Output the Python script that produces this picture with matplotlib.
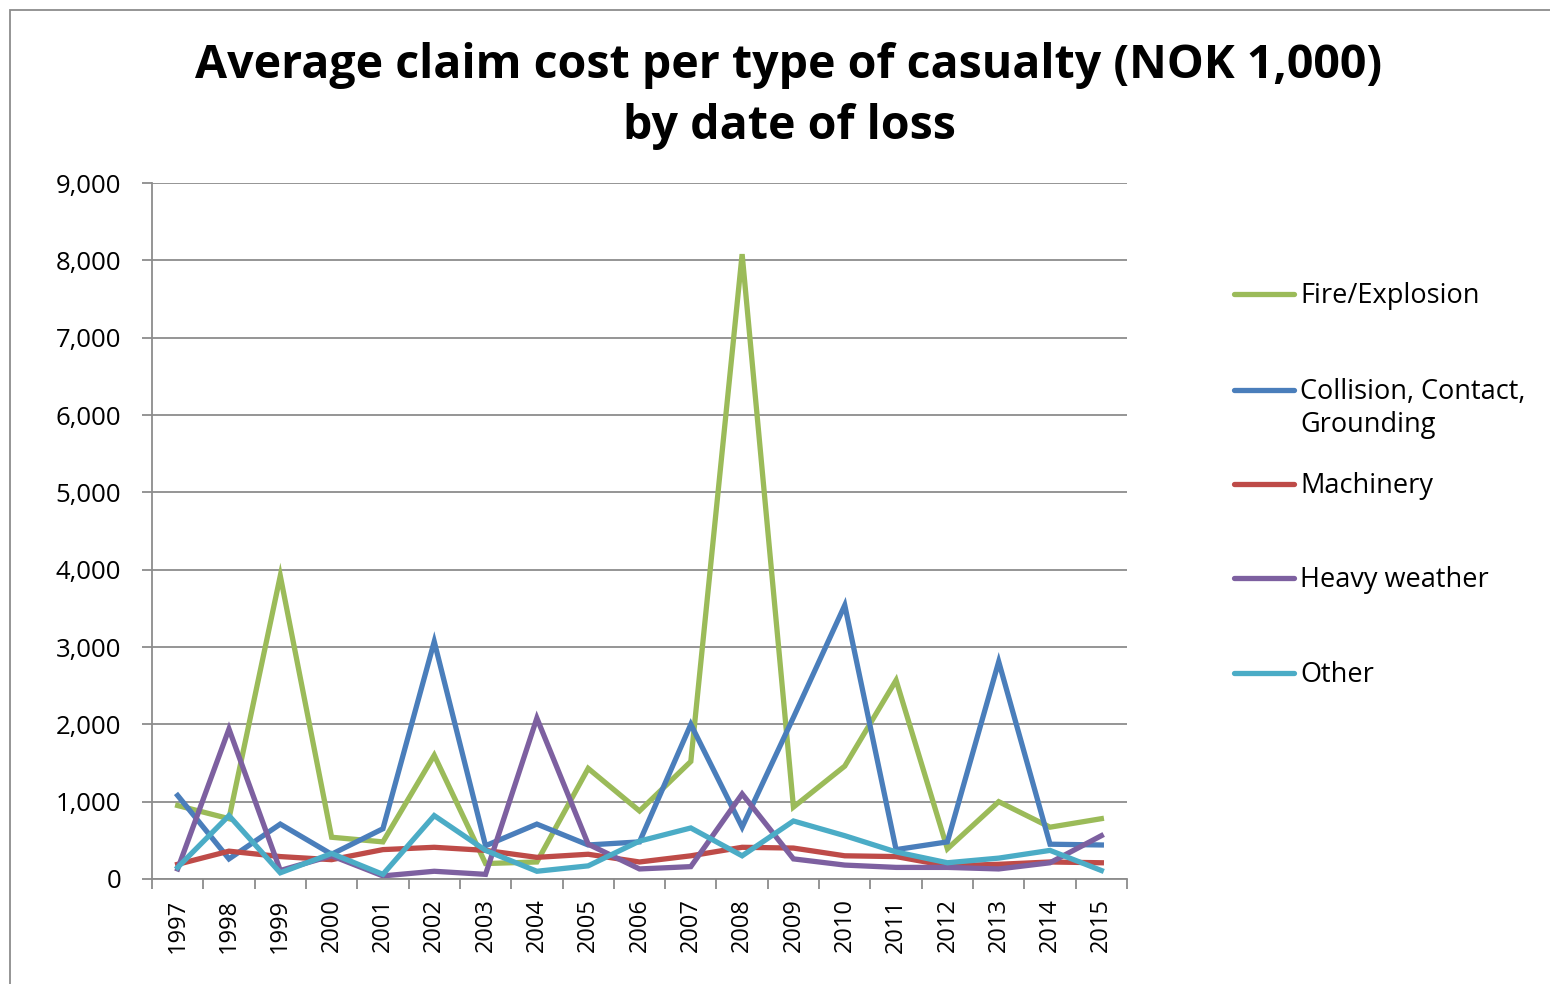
import matplotlib
matplotlib.use("Agg")
import matplotlib.pyplot as plt
import numpy as np
from matplotlib.lines import Line2D
from matplotlib.patches import Rectangle
from matplotlib.ticker import FuncFormatter, MultipleLocator, FixedLocator

# average claim cost, NOK 1,000, by year of loss
years = [1997, 1998, 1999, 2000, 2001, 2002, 2003, 2004, 2005, 2006,
         2007, 2008, 2009, 2010, 2011, 2012, 2013, 2014, 2015]
fire = [950, 780, 3920, 540, 480, 1600, 200, 220, 1430, 880,
        1520, 8080, 930, 1460, 2570, 390, 1000, 670, 780]
collision = [1080, 260, 710, 320, 650, 3070, 430, 710, 440, 480,
             2000, 670, 2090, 3540, 380, 480, 2810, 450, 440]
machinery = [190, 360, 290, 250, 380, 410, 370, 280, 320, 220,
             300, 410, 400, 300, 290, 170, 190, 220, 210]
heavy = [130, 1940, 110, 300, 40, 100, 60, 2080, 450, 130,
         160, 1100, 260, 180, 150, 150, 130, 210, 560]
other = [150, 820, 80, 330, 60, 820, 370, 100, 170, 490,
         660, 300, 750, 560, 350, 210, 270, 370, 110]

names = ["Fire/Explosion", "Collision, Contact,\nGrounding", "Machinery",
         "Heavy weather", "Other"]
colors = ["#9BBB59", "#4A7EBB", "#BE4B48", "#7D60A0", "#4BACC6"]
series = [fire, collision, machinery, heavy, other]

plt.rcParams["font.family"] = ["Open Sans", "DejaVu Sans"]

W, H = 1550, 984
fig = plt.figure(figsize=(W / 100, H / 100), dpi=100)


def fx(px):
    return px / W


def fy(py):
    return 1 - py / H


# outer chart border (cut off at right/bottom)
fig.add_artist(Rectangle((fx(10), -0.2), 1.2, fy(10) + 0.2, transform=fig.transFigure,
                         fill=False, edgecolor="#8c8c8c", lw=1.3))

ax = fig.add_axes([fx(152), fy(879), fx(1127) - fx(152), fy(183) - fy(879)])

x = np.arange(len(years))
for vals, col in zip(series, colors):
    ax.plot(x, vals, color=col, lw=3.8, solid_joinstyle="miter")

ax.set_xlim(-0.5, len(years) - 0.5)
ax.set_ylim(0, 9000)
ax.yaxis.set_major_locator(MultipleLocator(1000))
ax.yaxis.set_major_formatter(FuncFormatter(lambda v, p: f"{v:,.0f}"))
ax.grid(axis="y", color="#8c8c8c", lw=1.3)
ax.set_axisbelow(True)

ax.set_xticks(x)
ax.set_xticklabels([str(y) for y in years], rotation=90)
ax.xaxis.set_minor_locator(FixedLocator(np.arange(-0.5, len(years), 1.0)))
ax.tick_params(axis="x", which="major", length=0, pad=14, labelsize=17)
ax.tick_params(axis="x", which="minor", length=7, width=1.3, color="#8c8c8c")
ax.tick_params(axis="y", length=7.2, width=1.3, color="#8c8c8c", pad=15, labelsize=18.5)

for s in ["top", "right"]:
    ax.spines[s].set_visible(False)
for s in ["left", "bottom"]:
    ax.spines[s].set_color("#8c8c8c")
    ax.spines[s].set_linewidth(1.3)

fig.text(fx(789), fy(96), "Average claim cost per type of casualty (NOK 1,000)\nby date of loss",
         ha="center", va="center", fontsize=33.5, fontweight="bold", linespacing=1.38)

# legend drawn the way the spreadsheet lays it out: handle next to the first text line
legend_y = [294, 390, 484, 578, 673]
line_step = 33
for name, col, ly in zip(names, colors, legend_y):
    fig.add_artist(Line2D([fx(1234), fx(1294)], [fy(ly), fy(ly)], transform=fig.transFigure,
                          color=col, lw=3.8, solid_capstyle="round"))
    extra = name.count("\n") * line_step
    fig.text(fx(1300), fy(ly + 9 + extra), name, ha="left", va="baseline", fontsize=19.5,
             linespacing=1.25)

fig.savefig("out.png", dpi=100)
